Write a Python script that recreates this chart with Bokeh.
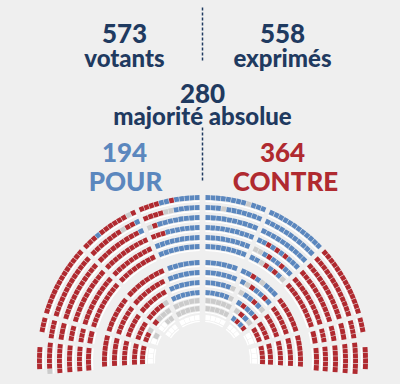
import numpy as np
from bokeh.plotting import figure
from bokeh.models import Range1d, Label, ColumnDataSource
from bokeh.embed import file_html
from bokeh.resources import INLINE

# ---------------- data ----------------
VOTANTS = 573
EXPRIMES = 558
MAJORITE = 280
POUR = 194
CONTRE = 364

# row radii of the hemicycle (outer block and inner block)
ROWS_OUTER = [163, 153, 143, 133, 123, 114]
ROWS_INNER = [98, 88, 78, 68, 60, 52, 43]

# seat colours per sector and row, read from the centre aisle outwards
# R = contre, B = pour, G = abstention, W = empty, X = no seat; letter without count fills the row
OC_L = ["B5 R1 B2 R", "B5 G2 R", "B8 R1 G", "B7 R", "B", "B"]
OC_R = ["B8 G1 B", "B3 G1 B", "B", "B", "B", "B"]
OD_L = ["R1 G1 R6 B1 R", "B1 R2 G1 R", "B1 R", "R", "R", "R"]
OD_R = ["B", "B", "B", "B2 R1 B1 R1 B1 R1 B", "G2 B1 R1 B2 R1 B2 G1 B", "B2 G1 R1 B1 R1 B1 G1 B"]
OS_L = ["R", "R", "R", "R", "R", "R"]
OS_R = ["R", "R", "R", "R", "R", "R"]
OL1_L = ["R3 X", "R", "R", "R", "R", "R"]
OL1_R = ["R3 X", "R", "R", "R", "R", "R"]
OL2_L = ["X1 R4 X", "R G1", "R", "R", "R", "R"]
OL2_R = ["X1 R4 X", "R", "R", "R", "R", "R"]

IC_L = ["B", "B", "B", "B", "G", "G", "W"]
IC_R = ["B", "B", "B G1", "B G1", "G", "G", "W"]
ID_L = ["R", "R", "R", "G1 R", "G3 R", "G2 W", "W"]
ID_R = ["B2 R1 B1 G1 B", "B1 G1 R1 B2 R1 B", "G1 B2 R1 B1 G1 B", "B1 R1 B2 R1 B",
        "G1 R1 B1 G", "B1 R1 B1 R1 W", "W"]
IS_L = ["R", "R", "R", "R", "G1 R", "G1 W", "X"]
IS_R = ["R", "R", "R", "R", "R", "W", "X"]
IL_L = ["R", "R", "R", "R", "R", "W", "X"]
IL_R = ["R", "R", "R", "R", "R", "W", "X"]

# ---------------- style ----------------
BG = "#efefef"
NAVY = "#1f3a60"
C_BLUE = "#5b87be"
C_RED = "#b02a30"
COLORS = {"R": C_RED, "B": C_BLUE, "G": "#cbcbcb", "W": "#ffffff"}
FONT = "'Lato Black', Lato"

H = 384
CX, CY = 202, H - 360
PITCH = 5.2
SEAT_GAP = 0.5
AISLE = 2.3
CENTER_AISLE = 3.0


def parse_runs(spec, n):
    toks = spec.split()
    fixed = sum(int(t[1:]) for t in toks if len(t) > 1)
    out = []
    for t in toks:
        k = int(t[1:]) if len(t) > 1 else max(0, n - fixed)
        out += [t[0]] * k
    out = out[:n]
    if len(out) < n:
        out += [out[-1] if out else "X"] * (n - len(out))
    return out


def outer_bounds(r):
    return [90, 113.5, 137, 164, 172.5, 185]


def inner_bounds(r):
    a1 = np.interp(r, [43, 98], [124, 112])
    a2 = np.interp(r, [43, 98], [148, 140])
    return [90, a1, a2, 164, 183.5]


seats = dict(x=[], y=[], ir=[], orr=[], sa=[], ea=[], c=[])
desks = dict(x=[], y=[], ir=[], orr=[], sa=[], ea=[])


def add_sector(rows, bounds_fn, idx, runs_left, runs_right):
    for ri, r in enumerate(rows):
        b = bounds_fn(r)
        lo, hi = np.radians(b[idx]), np.radians(b[idx + 1])
        g_lo = (CENTER_AISLE if idx == 0 else AISLE) / r
        g_hi = 0 if idx + 1 == len(b) - 1 else AISLE / r
        a0, a1 = lo + g_lo, hi - g_hi
        span = a1 - a0
        n = max(1, int(round((r * span + SEAT_GAP) / PITCH)))
        gap = SEAT_GAP / r
        w = (span - (n - 1) * gap) / n
        for side, runs in ((0, runs_left), (1, runs_right)):
            cols = parse_runs(runs[ri], n)
            drawn = [k for k, c in enumerate(cols) if c != "X"]
            if not drawn:
                continue
            for k, c in enumerate(cols):
                if c == "X":
                    continue
                s = a0 + k * (w + gap)
                e = s + w
                if side == 1:
                    s, e = np.pi - e, np.pi - s
                seats["x"].append(CX); seats["y"].append(CY)
                seats["ir"].append(r - 2.4); seats["orr"].append(r + 2.5)
                seats["sa"].append(s); seats["ea"].append(e)
                seats["c"].append(COLORS[c])
            ds = a0 + drawn[0] * (w + gap)
            de = a0 + drawn[-1] * (w + gap) + w
            if side == 1:
                ds, de = np.pi - de, np.pi - ds
            desks["x"].append(CX); desks["y"].append(CY)
            desks["ir"].append(r - 4.5); desks["orr"].append(r - 3.1)
            desks["sa"].append(ds); desks["ea"].append(de)


outer_sectors = [(OC_L, OC_R), (OD_L, OD_R), (OS_L, OS_R), (OL1_L, OL1_R), (OL2_L, OL2_R)]
inner_sectors = [(IC_L, IC_R), (ID_L, ID_R), (IS_L, IS_R), (IL_L, IL_R)]
for i, (L, R) in enumerate(outer_sectors):
    add_sector(ROWS_OUTER, outer_bounds, i, L, R)
for i, (L, R) in enumerate(inner_sectors):
    add_sector(ROWS_INNER, inner_bounds, i, L, R)

# ---------------- figure ----------------
p = figure(width=400, height=384, x_range=Range1d(0, 400), y_range=Range1d(0, H),
           output_backend="svg", toolbar_location=None, min_border=0)
p.axis.visible = False
p.grid.visible = False
p.outline_line_color = None
p.background_fill_color = BG
p.border_fill_color = BG

p.annular_wedge(x="x", y="y", inner_radius="ir", outer_radius="orr", start_angle="sa",
                end_angle="ea", fill_color="#ffffff", line_color=None,
                source=ColumnDataSource(desks))
p.annular_wedge(x="x", y="y", inner_radius="ir", outer_radius="orr", start_angle="sa",
                end_angle="ea", fill_color="c", line_color=None,
                source=ColumnDataSource(seats))

# dashed separators
p.segment(x0=[202, 202], y0=[H - 7, H - 127], x1=[202, 202], y1=[H - 62, H - 182],
          line_color=NAVY, line_width=1.5, line_dash="3 2")


def lab(x, y, text, color, size):
    p.add_layout(Label(x=x, y=H - y, text=text, text_color=color, text_font=FONT,
                       text_font_style="bold", text_font_size=size, text_align="center",
                       text_baseline="alphabetic"))


lab(124, 33, str(VOTANTS), NAVY, "26px")
lab(124, 57, "votants", NAVY, "24px")
lab(282, 33, str(EXPRIMES), NAVY, "26px")
lab(282, 57, "exprimés", NAVY, "24px")
lab(202, 93, str(MAJORITE), NAVY, "26px")
lab(202, 115, "majorité absolue", NAVY, "24px")
lab(124, 152, str(POUR), C_BLUE, "26px")
lab(125, 180, "POUR", C_BLUE, "26px")
lab(282, 152, str(CONTRE), C_RED, "26px")
lab(285, 180, "CONTRE", C_RED, "26px")

html = file_html(p, INLINE)
html = html.replace("<head>", "<head><style>html,body{background:#efefef;}</style>", 1)
open("out.html", "w").write(html)
